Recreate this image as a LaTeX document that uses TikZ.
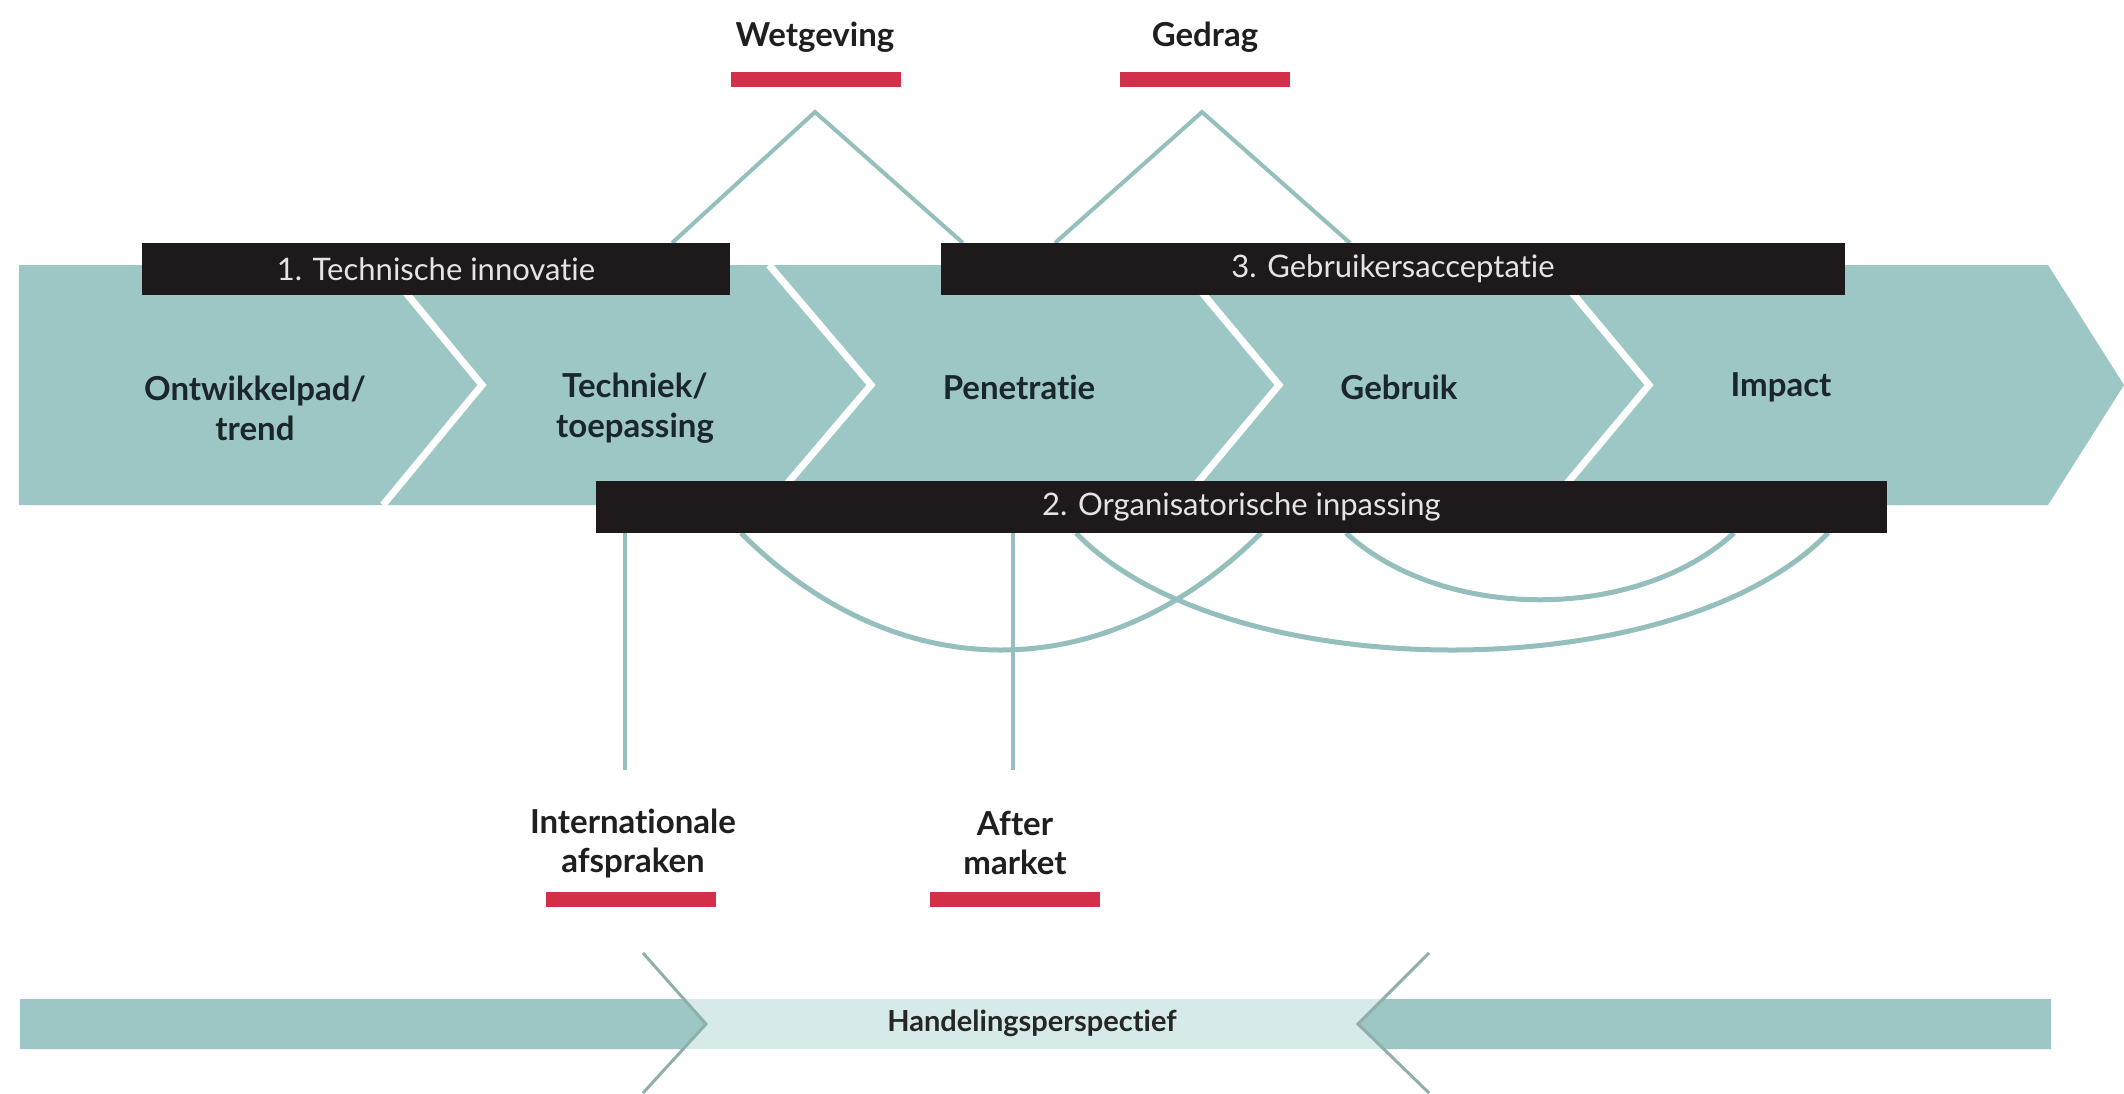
\documentclass[tikz,border=0pt]{standalone}
\usepackage{fontspec}
\setmainfont[Ligatures=NoCommon]{Lato}
\newfontfamily\condfont[Ligatures=NoCommon]{Lato}
\definecolor{teal1}{HTML}{9DC7C5}
\definecolor{teal2}{HTML}{94BFBC}
\definecolor{tealpale}{HTML}{D6EBE9}
\definecolor{chevgray}{HTML}{8FAFAD}
\definecolor{boxblack}{HTML}{1E1A1B}
\definecolor{barred}{HTML}{D32F4B}
\definecolor{txtdark}{HTML}{1A2629}
\definecolor{boxtxt}{HTML}{E4E4E4}
\tikzset{
  stage/.style={font=\bfseries\fontsize{33}{40}\selectfont, text=txtdark, align=center, inner sep=0pt},
  phasebox/.style={fill=boxblack, text=boxtxt, font=\condfont\fontsize{31}{36}\selectfont, minimum height=52pt, inner sep=0pt},
  factor/.style={font=\bfseries\fontsize{33}{39}\selectfont, text=black!88, align=center, inner sep=0pt},
  redbar/.style={fill=barred, minimum width=170pt, minimum height=15pt, inner sep=0pt},
  link/.style={draw=teal2, line width=4pt},
  arcline/.style={draw=teal2, line width=5pt},
  gap/.style={draw=white, line width=7pt},
  chev/.style={draw=chevgray, line width=3pt},
}
\begin{document}
\begin{tikzpicture}[x=1pt,y=-1pt]
\useasboundingbox[fill=white] (0,0) rectangle (2124,1093);

% apex and leg coordinates of the two triangles
\coordinate (wapex) at (815,112);
\coordinate (wl) at (672,243);
\coordinate (wr) at (963,243);
\coordinate (gapex) at (1202,112);
\coordinate (gl) at (1055,243);
\coordinate (gr) at (1350,243);
\draw[link] (wl) -- (wapex) -- (wr);
\draw[link] (gl) -- (gapex) -- (gr);

% main band
\fill[teal1] (19,265) -- (2048,265) -- (2124,385) -- (2048,505) -- (19,505) -- cycle;
\draw[gap] (383,265) -- (482,385) -- (383,505);
\draw[gap] (769,265) -- (871,385) -- (769,505);
\draw[gap] (1179,265) -- (1279,385) -- (1179,505);
\draw[gap] (1549,265) -- (1649,385) -- (1549,505);

% arcs below box 2
\coordinate (aAl) at (741,533);
\coordinate (aAr) at (1261,533);
\coordinate (aBl) at (1076,533);
\coordinate (aBr) at (1828,533);
\coordinate (aCl) at (1346,533);
\coordinate (aCr) at (1734,533);
\draw[arcline] (aAl) .. controls (897,689) and (1105,689) .. (aAr);
\draw[arcline] (aBl) .. controls (1226,689) and (1678,689) .. (aBr);
\draw[arcline] (aCl) .. controls (1443,622) and (1637,622) .. (aCr);

% phase boxes
\node[phasebox, minimum width=588pt] (box1) at (436,269) {1. Technische innovatie};
\node[phasebox, minimum width=904pt] (box3) at (1393,269) {3. Gebruikersacceptatie};
\node[phasebox, minimum width=1291pt] (box2) at (1241.5,507) {2. Organisatorische inpassing};

% vertical links
\coordinate (il) at (625,770);
\coordinate (al) at (1013,770);
\draw[link, line width=3.5pt] (il |- box2.south) -- (il);
\draw[link, line width=3.5pt] (al |- box2.south) -- (al);

% stage texts
\node[stage] (s1) at (255,408) {Ontwikkelpad/\\trend};
\node[stage] (s2) at (635,408) {Techniek/\\toepassing};
\node[stage] (s3) at (1019,387) {Penetratie};
\node[stage] (s4) at (1399,387) {Gebruik};
\node[stage] (s5) at (1781,387) {Impact};

% top factors
\node[factor] (wet) at (815,37) {Wetgeving};
\node[redbar] (wetbar) at (816,79) {};
\node[factor] (ged) at (1205,37) {Gedrag};
\node[redbar] (gedbar) at (1205,79) {};

% bottom factors
\node[factor] (int) at (633,843) {Internationale\\afspraken};
\node[redbar] (intbar) at (631,899.5) {};
\node[factor] (aft) at (1015,843) {After\\market};
\node[redbar] (aftbar) at (1014.5,899.5) {};

% bottom arrow
\fill[tealpale] (684,999) rectangle (1382,1049);
\fill[teal1] (20,999) -- (684,999) -- (706,1024) -- (684,1049) -- (20,1049) -- cycle;
\fill[teal1] (1382,999) -- (2051,999) -- (2051,1049) -- (1382,1049) -- (1358,1024) -- cycle;
\draw[chev] (643,953) -- (706,1024) -- (643,1093);
\draw[chev] (1429,953) -- (1358,1024) -- (1429,1093);
\node[font=\bfseries\fontsize{29}{33}\selectfont, text=black!85, inner sep=0pt] (hp) at (1032,1023) {Handelingsperspectief};
\end{tikzpicture}
\end{document}
